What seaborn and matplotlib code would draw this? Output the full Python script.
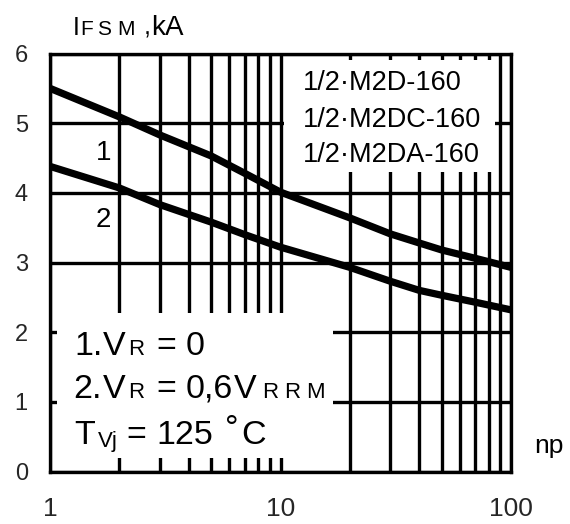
import numpy as np
import pandas as pd
import matplotlib
matplotlib.use("Agg")
import matplotlib.pyplot as plt
import seaborn as sns
from matplotlib.ticker import FixedLocator, LogLocator, NullFormatter
from matplotlib.patches import Rectangle

# ---- data ----
np_points = [1, 2, 3, 5, 7, 10, 20, 30, 40, 50, 70, 100]
ifsm_curve1 = [5.50, 5.09, 4.83, 4.53, 4.28, 4.01, 3.64, 3.41, 3.28, 3.18, 3.06, 2.93]
ifsm_curve2 = [4.38, 4.07, 3.83, 3.58, 3.40, 3.22, 2.93, 2.73, 2.60, 2.53, 2.43, 2.32]
curve_names = ["1", "2"]
x_ticks = [1, 10, 100]
x_tick_labels = ["1", "10", "100"]
y_ticks = [0, 1, 2, 3, 4, 5, 6]
device_names = ["1/2\u00b7M2D-160", "1/2\u00b7M2DC-160", "1/2\u00b7M2DA-160"]

df = pd.DataFrame({
    "np": np_points * 2,
    "IFSM": ifsm_curve1 + ifsm_curve2,
    "curve": [curve_names[0]] * len(np_points) + [curve_names[1]] * len(np_points),
})

sns.set_style("white")
plt.rcParams["font.family"] = ["Liberation Sans", "DejaVu Sans"]

W, H = 570, 524
fig = plt.figure(figsize=(W / 100, H / 100), dpi=100)
ax = fig.add_axes([50 / W, 1 - 471.5 / H, (511 - 50) / W, (471.5 - 53.5) / H])

LW = 2.4
ax.set_xscale("log")
sns.lineplot(data=df, x="np", y="IFSM", hue="curve", palette=["black", "black"],
             linewidth=5.2, legend=False, ax=ax, zorder=3)
ax.set_xlim(1, 100)
ax.set_ylim(0, 6)
ax.xaxis.set_major_locator(FixedLocator(x_ticks))
ax.set_xticklabels(x_tick_labels)
ax.xaxis.set_minor_locator(LogLocator(base=10, subs=np.arange(2, 10)))
ax.xaxis.set_minor_formatter(NullFormatter())
ax.set_yticks(y_ticks)
ax.set_yticklabels([str(v) for v in y_ticks])
ax.set_xlabel("")
ax.set_ylabel("")

ax.set_axisbelow(True)
ax.grid(True, which="both", axis="x", color="black", linewidth=LW)
ax.grid(True, which="major", axis="y", color="black", linewidth=LW)
for s in ax.spines.values():
    s.set_visible(True)
    s.set_color("black")
    s.set_linewidth(LW)
    s.set_zorder(2.5)
ax.tick_params(which="major", direction="out", length=7, width=LW, color="black")
ax.tick_params(which="minor", length=0)
ax.tick_params(axis="x", labelsize=19, pad=11)
ax.tick_params(axis="y", labelsize=17, pad=9)

# white panels that interrupt the grid
ax.add_patch(Rectangle((10.4, 4.3), 85 - 10.4, 5.9 - 4.3, facecolor="white",
                       edgecolor="none", zorder=1))
ax.add_patch(Rectangle((1.07, 0.19), 16.9 - 1.07, 2.28 - 0.19, facecolor="white",
                       edgecolor="none", zorder=1))

def ftext(s, x_px, base_px, size, **kw):
    fig.text(x_px / W, 1 - base_px / H, s, fontsize=size, ha="left", va="baseline",
             color="black", zorder=5, **kw)

# y-axis title  I_FSM ,kA
ftext("I", 73, 35, 18)
ftext("F", 80, 35, 15)
ftext("S", 97, 35, 15)
ftext("M", 117, 35, 15)
ftext(",", 144, 35, 18)
ftext("kA", 151, 35, 20)

# x-axis title
ftext("np", 534, 453, 19)

# device names
for name, base in zip(device_names, [90, 127, 162]):
    ftext(name, 303, base, 19.5)

# curve labels
ftext(curve_names[0], 96, 160, 20)
ftext(curve_names[1], 96, 227, 20)

# conditions
BIG, SMALL = 24.5, 16
ftext("1.", 74, 355, BIG)
ftext("V", 103, 355, BIG)
ftext("R", 128, 355, SMALL)
ftext("=", 156, 355, BIG)
ftext("0", 186, 355, BIG)

ftext("2.", 73, 398, BIG)
ftext("V", 103, 398, BIG)
ftext("R", 128, 398, SMALL)
ftext("=", 156, 398, BIG)
ftext("0,6", 186, 398, BIG)
ftext("V", 234, 398, BIG)
ftext("R", 262, 398, SMALL)
ftext("R", 284, 398, SMALL)
ftext("M", 306, 398, SMALL)

ftext("T", 74, 444, BIG)
ftext("Vj", 98, 447, SMALL)
ftext("=", 126, 444, BIG)
ftext("125", 156, 444, BIG)
ftext("\u00b0", 225, 438, BIG)
ftext("C", 241, 444, BIG)

fig.savefig("out.png", dpi=100, facecolor="white")
